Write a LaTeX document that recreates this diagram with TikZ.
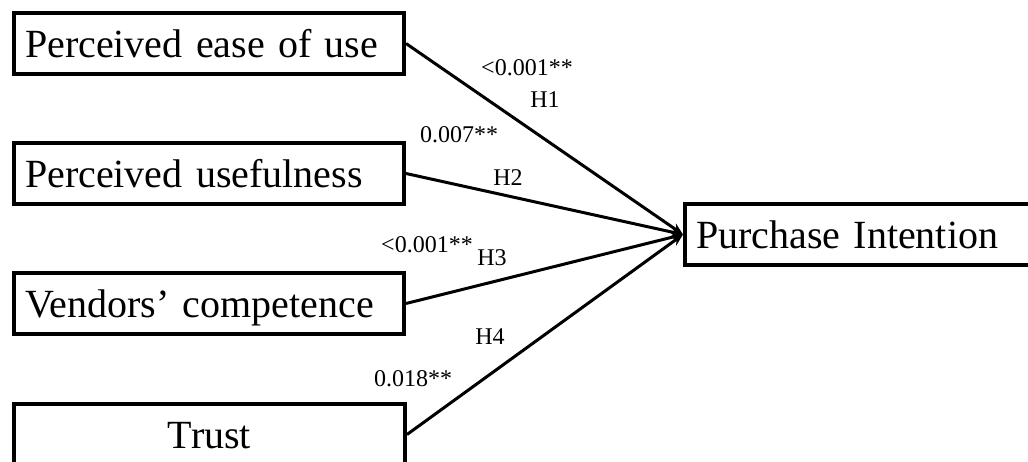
\documentclass[tikz,border=0pt]{standalone}
\usepackage{fontspec}
\setmainfont{Liberation Serif}
\usetikzlibrary{arrows.meta}
\begin{document}
\begin{tikzpicture}[x=1pt,y=-1pt,
  varbox/.style={draw=black, line width=4pt, minimum height=61pt, inner sep=11pt,
    font=\fontsize{40}{40}\selectfont, text height=27pt, text depth=0pt},
  leftbox/.style={varbox, text width=368pt, align=left},
  conn/.style={line width=3pt, -{Stealth[length=12pt,width=10pt]}},
  lab/.style={font=\fontsize{24}{24}\selectfont, inner sep=0pt}
]
\useasboundingbox (0,0) rectangle (1028,461);
\clip (0,0) rectangle (1028,461);

\node[leftbox, anchor=north west] (peou) at (12,11) {Perceived ease of use};
\node[leftbox, anchor=north west] (pu) at (12,141) {Perceived usefulness};
\node[leftbox, anchor=north west] (vc) at (12,271) {Vendors’ competence};
\node[varbox, minimum width=391pt, anchor=north west] (trust) at (12,402) {Trust};
\node[varbox, minimum width=360pt, text width=338pt, align=left, anchor=north west] (pi) at (683,202) {Purchase Intention};

\draw[conn] (peou.east) -- (pi.west);
\draw[conn] (pu.east) -- (pi.west);
\draw[conn] (vc.east) -- (pi.west);
\draw[conn] (trust.east) -- (pi.west);

\node[lab] (p1) at (527,68) {<0.001**};
\node[lab] (h1) at (545,100) {H1};
\node[lab] (p2) at (459,135) {0.007**};
\node[lab] (h2) at (508,178) {H2};
\node[lab] (p3) at (427,245) {<0.001**};
\node[lab] (h3) at (492,258) {H3};
\node[lab] (h4) at (490,337) {H4};
\node[lab] (p4) at (413,379) {0.018**};
\end{tikzpicture}
\end{document}
